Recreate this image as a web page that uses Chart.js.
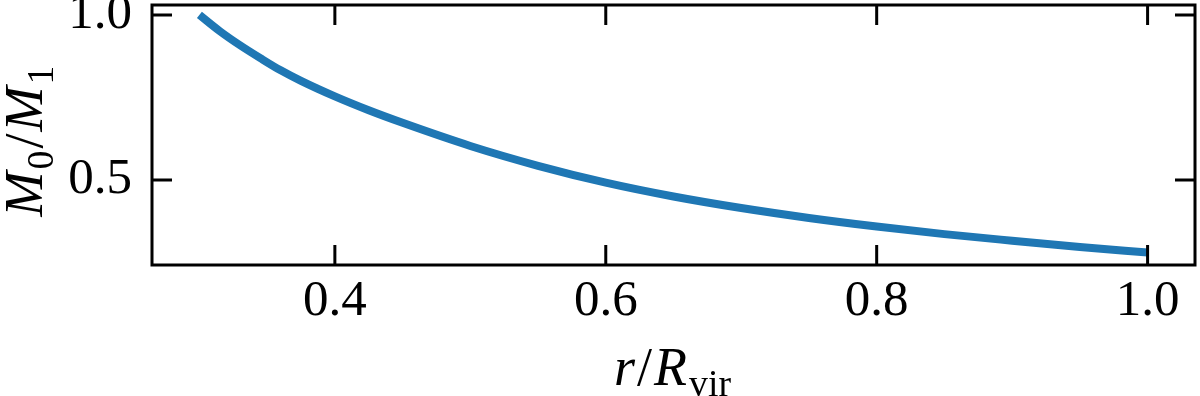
<!DOCTYPE html>
<html>
<head>
<meta charset="utf-8">
<script src="https://cdn.jsdelivr.net/npm/chart.js@4/dist/chart.umd.min.js"></script>
<style>
html, body { margin: 0; padding: 0; background: #fff; }
</style>
</head>
<body>
<canvas id="massChart" width="1200" height="396"></canvas>
<script>
// r / R_vir and the mass ratio
const radii = [0.300, 0.315, 0.330, 0.345, 0.360, 0.375, 0.400, 0.425, 0.450, 0.500, 0.550, 0.600, 0.650, 0.700, 0.750, 0.800, 0.850, 0.900, 0.950, 1.000];
const massRatio = [1.000, 0.951, 0.908, 0.869, 0.832, 0.800, 0.753, 0.711, 0.673, 0.603, 0.543, 0.492, 0.450, 0.415, 0.385, 0.359, 0.336, 0.316, 0.297, 0.280];

const xTicks = [0.4, 0.6, 0.8, 1.0];
const yTicks = [0.5, 1.0];

// axis titles as pieces: italic math letters, upright subscripts
const xTitle = [{ t: 'r', it: true }, { t: '/' }, { t: 'R', it: true }, { t: 'vir', sub: true }];
const yTitle = [{ t: 'M', it: true }, { t: '0', sub: true }, { t: '/' }, { t: 'M', it: true }, { t: '1', sub: true }];

const SERIF = '"Liberation Serif", "Times New Roman", Times, serif';

function drawMath(ctx, parts, size) {
    const fontOf = p => (p.it ? 'italic ' : '') + (p.sub ? size * 0.7 : size) + 'px ' + SERIF;
    let total = 0;
    for (const p of parts) { ctx.font = fontOf(p); total += ctx.measureText(p.t).width + 2; }
    let x = -total / 2;
    for (const p of parts) {
        ctx.font = fontOf(p);
        ctx.fillText(p.t, x, p.sub ? size * 0.2 : 0);
        x += ctx.measureText(p.t).width + 2;
    }
}

const frame = {
    id: 'frame',
    afterDatasetsDraw(chart) {
        const { ctx, chartArea: a, scales } = chart;
        const len = 20;
        ctx.save();
        ctx.strokeStyle = '#000';
        ctx.lineWidth = 3;
        ctx.beginPath();
        for (const v of xTicks) {
            const px = scales.x.getPixelForValue(v);
            ctx.moveTo(px, a.bottom); ctx.lineTo(px, a.bottom - len);
            ctx.moveTo(px, a.top); ctx.lineTo(px, a.top + len);
        }
        for (const v of yTicks) {
            const py = scales.y.getPixelForValue(v);
            ctx.moveTo(a.left, py); ctx.lineTo(a.left + len, py);
            ctx.moveTo(a.right, py); ctx.lineTo(a.right - len, py);
        }
        ctx.stroke();
        ctx.strokeRect(a.left, a.top, a.right - a.left, a.bottom - a.top);

        ctx.fillStyle = '#000';
        ctx.textBaseline = 'alphabetic';
        ctx.textAlign = 'left';
        ctx.save();
        ctx.translate((a.left + a.right) / 2, 385);
        drawMath(ctx, xTitle, 54);
        ctx.restore();
        ctx.save();
        ctx.translate(42, 140);
        ctx.rotate(-Math.PI / 2);
        drawMath(ctx, yTitle, 54);
        ctx.restore();
        ctx.restore();
    }
};

new Chart(document.getElementById('massChart'), {
    type: 'line',
    data: {
        datasets: [{
            data: radii.map((r, i) => ({ x: r, y: massRatio[i] })),
            borderColor: '#1f77b4',
            borderWidth: 8,
            borderCapStyle: 'butt',
            pointRadius: 0,
            cubicInterpolationMode: 'monotone',
            fill: false
        }]
    },
    options: {
        responsive: false,
        animation: false,
        devicePixelRatio: 1,
        layout: { padding: { top: 5, right: 5, left: 0, bottom: 0 } },
        plugins: { legend: { display: false }, tooltip: { enabled: false } },
        scales: {
            x: {
                type: 'linear',
                min: 0.265,
                max: 1.035,
                grid: { display: false, drawTicks: false },
                border: { display: false },
                afterBuildTicks: s => { s.ticks = xTicks.map(v => ({ value: v })); },
                ticks: {
                    color: '#000',
                    font: { family: SERIF, size: 51 },
                    padding: 6,
                    maxRotation: 0,
                    callback: v => v.toFixed(1)
                },
                afterFit: s => { s.height = 131; s.paddingLeft = 0; s.paddingRight = 0; }
            },
            y: {
                type: 'linear',
                min: 0.2424,
                max: 1.03,
                grid: { display: false, drawTicks: false },
                border: { display: false },
                afterBuildTicks: s => { s.ticks = yTicks.map(v => ({ value: v })); },
                ticks: {
                    color: '#000',
                    font: { family: SERIF, size: 51 },
                    padding: 20,
                    callback: v => v.toFixed(1)
                },
                afterFit: s => { s.width = 152; s.paddingTop = 0; s.paddingBottom = 0; }
            }
        }
    },
    plugins: [frame]
});
</script>
</body>
</html>
